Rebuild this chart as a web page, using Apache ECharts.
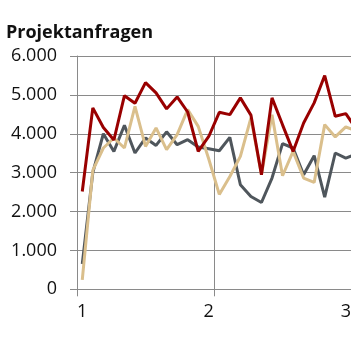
<!DOCTYPE html>
<html>
<head>
<meta charset="utf-8">
<script src="https://cdn.jsdelivr.net/npm/echarts@6/dist/echarts.min.js"></script>
<style>html,body{margin:0;padding:0;background:#fff}#c{width:351px;height:351px}</style>
</head>
<body>
<div id="c"></div>
<script>
// 27 weekly categories; labels only at selected positions
const categories = ['1','','','','','','','','','','','','2','','','','','','','','','','','','','3',''];
const yTicks = [0, 1000, 2000, 3000, 4000, 5000, 6000];
const seriesGray  = [650, 3000, 4000, 3546, 4220, 3505, 3892, 3700, 4050, 3719, 3848, 3660, 3616, 3564, 3907, 2688, 2387, 2232, 2861, 3745, 3634, 2946, 3436, 2371, 3505, 3376, 3480];
const seriesBeige = [240, 3060, 3634, 3892, 3634, 4706, 3675, 4150, 3590, 3980, 4621, 4190, 3350, 2440, 2902, 3418, 4407, 2946, 4492, 2920, 3546, 2861, 2748, 4235, 3918, 4175, 4080];
const seriesRed   = [2515, 4665, 4160, 3840, 4980, 4785, 5315, 5050, 4640, 4948, 4560, 3546, 3930, 4552, 4492, 4923, 4480, 2946, 4923, 4230, 3546, 4278, 4794, 5497, 4449, 4518, 4120];

function fmt(v){ return String(v).replace(/\B(?=(\d{3})+(?!\d))/g, '.'); }

const chart = echarts.init(document.getElementById('c'), null, {renderer:'canvas'});
const FONT = '"Open Sans", sans-serif';
const grid = '#8a8a8a';
chart.setOption({
  animation: false,
  title: {
    text: 'Projektanfragen',
    left: 6, top: 24, padding: 0,
    textStyle: {fontFamily: FONT, fontWeight: 'bold', fontSize: 18, color: '#111'}
  },
  grid: {left: 77, top: 56, bottom: 61.7, right: -10.6, containLabel: false, outerBoundsMode: 'none'},
  xAxis: {
    type: 'category',
    data: categories,
    boundaryGap: true,
    axisLine: {show: true, lineStyle: {color: grid, width: 1}},
    axisTick: {show: true, length: 7, interval: (i) => i % 13 === 0, lineStyle: {color: grid}},
    splitLine: {show: true, interval: (i) => i % 13 === 0, lineStyle: {color: grid, width: 1}},
    axisLabel: {interval: 0, margin: 14, fontFamily: FONT, fontSize: 18, color: '#111'}
  },
  yAxis: {
    type: 'value',
    min: yTicks[0], max: yTicks[yTicks.length-1], interval: 1000,
    axisLine: {show: true, lineStyle: {color: grid, width: 1}},
    axisTick: {show: true, length: 7, lineStyle: {color: grid}},
    splitLine: {show: true, lineStyle: {color: grid, width: 1}},
    axisLabel: {margin: 20, fontFamily: FONT, fontSize: 18, color: '#111', formatter: fmt}
  },
  series: [
    {type: 'line', data: seriesGray, symbol: 'none', lineStyle: {color: '#4f565c', width: 3}, z: 2},
    {type: 'line', data: seriesBeige, symbol: 'none', lineStyle: {color: '#dabf8c', width: 3}, z: 3},
    {type: 'line', data: seriesRed, symbol: 'none', lineStyle: {color: '#990000', width: 3}, z: 4}
  ]
});
</script>
</body>
</html>
